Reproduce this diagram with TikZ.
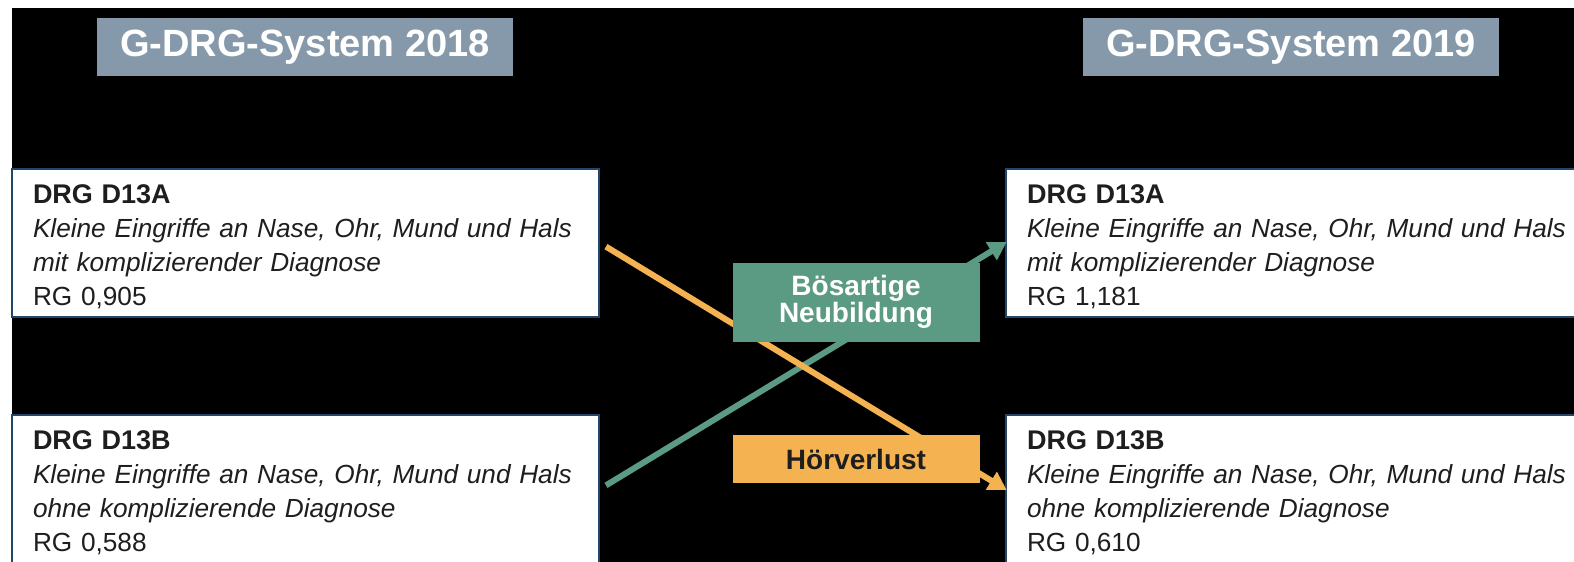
\documentclass[tikz,border=0pt]{standalone}
\usepackage{fontspec}
\setmainfont{Liberation Sans}
\usetikzlibrary{arrows.meta}
\definecolor{hdr}{HTML}{8599AB}
\definecolor{grn}{HTML}{5B9A83}
\definecolor{org}{HTML}{F4B350}
\definecolor{bord}{HTML}{24466B}
\definecolor{txt}{HTML}{1E1E1E}
\newcommand{\drghead}[1]{{\fontsize{27}{34}\selectfont\bfseries #1}}
\begin{document}
\begin{tikzpicture}[x=1pt,y=-1pt,
  hdrbox/.style={fill=hdr, text=white, font=\fontsize{38}{40}\selectfont\bfseries,
    minimum width=416pt, minimum height=58pt, inner sep=0pt},
  drgbox/.style={fill=white, draw=bord, line width=2pt, anchor=north west,
    text width=#1, inner xsep=21pt, inner ysep=15pt, text height=19pt, text depth=99pt,
    align=left, text=txt, font=\fontsize{26.2}{34}\selectfont},
  lblbox/.style={minimum width=247pt, inner sep=0pt, align=center,
    font=\fontsize{28}{30}\selectfont\bfseries},
  conn/.style={line width=6pt, -{Triangle[length=18pt,width=20pt]},
    shorten <=7pt, shorten >=-2pt}
]
\useasboundingbox (0,0) rectangle (1574,562);
\clip (0,0) rectangle (1574,562);
\fill[white] (0,0) rectangle (1574,562);
\fill[black] (12,8) rectangle (1574,562);

\node[hdrbox] (h1) at (305,47) {G-DRG-System 2018};
\node[hdrbox] (h2) at (1291,47) {G-DRG-System 2019};

\node[drgbox=545pt] (L1) at (11,168) {\drghead{DRG D13A}\\\textit{Kleine Eingriffe an Nase, Ohr, Mund und Hals}\\\textit{mit komplizierender Diagnose}\\RG 0,905};
\node[drgbox=545pt] (L2) at (11,414) {\drghead{DRG D13B}\\\textit{Kleine Eingriffe an Nase, Ohr, Mund und Hals}\\\textit{ohne komplizierende Diagnose}\\RG 0,588};
\node[drgbox=570pt] (R1) at (1005,168) {\drghead{DRG D13A}\\\textit{Kleine Eingriffe an Nase, Ohr, Mund und Hals}\\\textit{mit komplizierender Diagnose}\\RG 1,181};
\node[drgbox=570pt] (R2) at (1005,414) {\drghead{DRG D13B}\\\textit{Kleine Eingriffe an Nase, Ohr, Mund und Hals}\\\textit{ohne komplizierende Diagnose}\\RG 0,610};

\draw[conn, grn] (L2.east) -- (R1.west);
\draw[conn, org] (L1.east) -- (R2.west);

\node[lblbox, fill=grn, text=white, minimum height=79pt] (lg) at (856,302) {Bösartige\\[-3pt]Neubildung};
\node[lblbox, fill=org, text=txt, minimum height=48pt] (lo) at (856,459) {Hörverlust};
\end{tikzpicture}
\end{document}
